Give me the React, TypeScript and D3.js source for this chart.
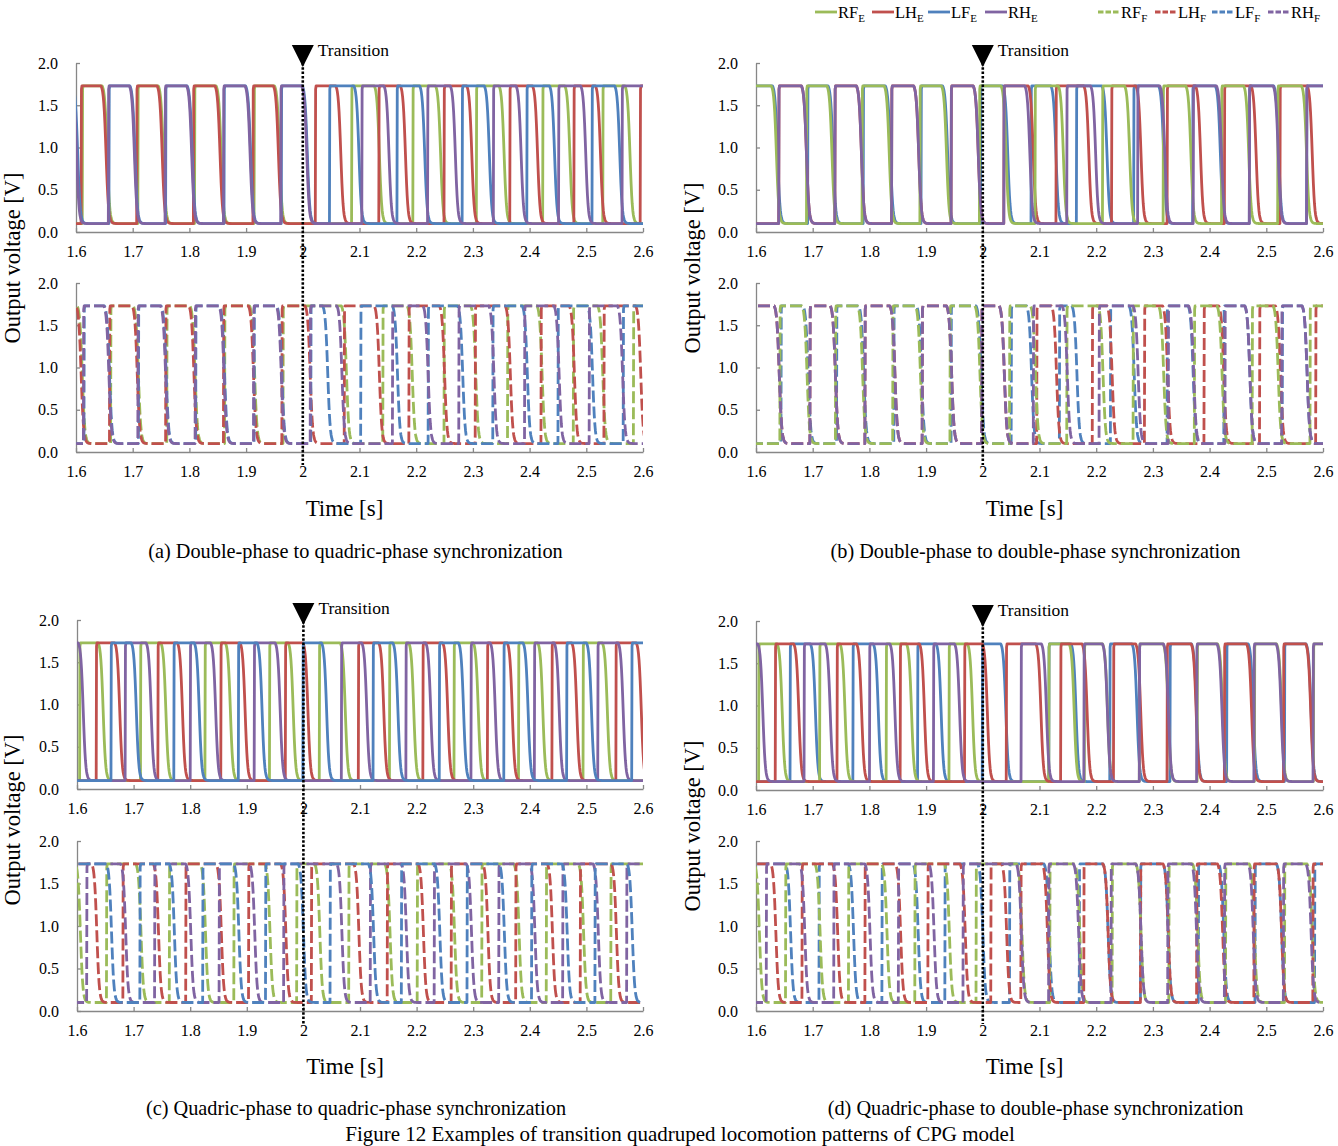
import React, { useEffect, useRef } from "react";
import * as d3 from "d3";

type Pulse = [number, number];

// time axis
const TIME_TICKS = [1.6, 1.7, 1.8, 1.9, 2.0, 2.1, 2.2, 2.3, 2.4, 2.5, 2.6];
const TIME_LABELS = ["1.6", "1.7", "1.8", "1.9", "2", "2.1", "2.2", "2.3", "2.4", "2.5", "2.6"];
const VOLT_TICKS = [0, 0.5, 1, 1.5, 2];
const VOLT_LABELS = ["0.0", "0.5", "1.0", "1.5", "2.0"];

const LEGS = ["RF", "LH", "LF", "RH"];
const COLORS = ["#9BBB59", "#C0504D", "#4F81BD", "#8064A2"];

// output levels [V]
const V_HIGH = 1.73;
const V_LOW = 0.1;

// pulses as [rise, start of fall] in seconds
// (a) double-phase -> quadric-phase
const A_RF_E: Pulse[] = [[1.611, 1.646], [1.709, 1.745], [1.809, 1.847], [1.914, 1.95], [2.086, 2.126], [2.194, 2.234], [2.306, 2.346], [2.423, 2.462], [2.529, 2.568]];
const A_LH_E: Pulse[] = [[1.609, 1.644], [1.707, 1.743], [1.807, 1.845], [1.912, 1.948], [2.022, 2.058], [2.134, 2.172], [2.249, 2.289], [2.365, 2.405], [2.478, 2.516], [2.595, 2.635]];
const A_LF_E: Pulse[] = [[1.552, 1.594], [1.658, 1.695], [1.758, 1.796], [1.861, 1.899], [1.962, 1.999], [2.047, 2.09], [2.166, 2.206], [2.281, 2.32], [2.395, 2.435], [2.51, 2.55]];
const A_RH_E: Pulse[] = [[1.55, 1.592], [1.657, 1.694], [1.757, 1.795], [1.86, 1.898], [1.961, 1.998], [2.104, 2.143], [2.22, 2.26], [2.336, 2.376], [2.451, 2.49], [2.563, 2.602]];
const A_RF_F: Pulse[] = [[1.56, 1.602], [1.661, 1.701], [1.76, 1.801], [1.862, 1.906], [1.965, 2.068], [2.141, 2.184], [2.249, 2.296], [2.361, 2.413], [2.477, 2.52], [2.583, 2.64]];
const A_LH_F: Pulse[] = [[1.56, 1.6], [1.659, 1.699], [1.758, 1.799], [1.86, 1.904], [1.963, 2.004], [2.073, 2.126], [2.187, 2.241], [2.304, 2.357], [2.42, 2.47], [2.531, 2.587]];
const A_LF_F: Pulse[] = [[1.614, 1.65], [1.71, 1.75], [1.811, 1.853], [1.914, 1.954], [2.014, 2.035], [2.102, 2.158], [2.221, 2.273], [2.335, 2.387], [2.45, 2.502], [2.565, 2.617]];
const A_RH_F: Pulse[] = [[1.613, 1.649], [1.709, 1.749], [1.81, 1.852], [1.913, 1.953], [2.013, 2.06], [2.158, 2.212], [2.275, 2.328], [2.391, 2.443], [2.505, 2.555], [2.617, 2.66]];

// (b) double-phase -> double-phase
const B_RF_E: Pulse[] = [[1.55, 1.627], [1.689, 1.725], [1.787, 1.826], [1.889, 1.927], [1.994, 2.032], [2.092, 2.133], [2.211, 2.25], [2.318, 2.358], [2.421, 2.46], [2.52, 2.562]];
const B_LH_E: Pulse[] = [[1.64, 1.68], [1.739, 1.777], [1.839, 1.878], [1.944, 1.983], [2.037, 2.08], [2.129, 2.178], [2.227, 2.27], [2.325, 2.375], [2.426, 2.473], [2.524, 2.572]];
const B_LF_E: Pulse[] = [[1.55, 1.629], [1.691, 1.727], [1.789, 1.828], [1.891, 1.929], [1.996, 2.035], [2.085, 2.12], [2.165, 2.21], [2.266, 2.31], [2.37, 2.41], [2.47, 2.513], [2.571, 2.61]];
const B_RH_E: Pulse[] = [[1.64, 1.68], [1.739, 1.777], [1.839, 1.878], [1.944, 1.983], [2.037, 2.074], [2.148, 2.19], [2.273, 2.312], [2.371, 2.412], [2.47, 2.512], [2.571, 2.615]];
const B_RF_F: Pulse[] = [[1.642, 1.681], [1.74, 1.779], [1.841, 1.881], [1.942, 1.986], [2.047, 2.084], [2.148, 2.203], [2.265, 2.31], [2.373, 2.413], [2.475, 2.512], [2.577, 2.65]];
const B_LH_F: Pulse[] = [[1.55, 1.632], [1.695, 1.731], [1.792, 1.836], [1.893, 1.936], [1.998, 2.029], [2.095, 2.121], [2.193, 2.219], [2.285, 2.317], [2.39, 2.416], [2.488, 2.516], [2.587, 2.65]];
const B_LF_F: Pulse[] = [[1.644, 1.683], [1.742, 1.781], [1.843, 1.883], [1.944, 1.988], [2.05, 2.077], [2.135, 2.157], [2.225, 2.258], [2.325, 2.362], [2.425, 2.462], [2.528, 2.563]];
const B_RH_F: Pulse[] = [[1.55, 1.632], [1.695, 1.731], [1.792, 1.836], [1.893, 1.936], [1.998, 2.029], [2.089, 2.14], [2.205, 2.265], [2.327, 2.363], [2.427, 2.462], [2.527, 2.563]];

// (c) quadric-phase -> quadric-phase
const C_RF_E: Pulse[] = [[1.6046, 1.6372], [1.7121, 1.748], [1.826, 1.862], [1.94, 1.973], [2.028, 2.065], [2.152, 2.186], [2.266, 2.3], [2.38, 2.414], [2.494, 2.528]];
const C_LH_E: Pulse[] = [[1.6339, 1.6665], [1.7428, 1.7773], [1.854, 1.888], [1.968, 1.999], [2.097, 2.133], [2.211, 2.246], [2.325, 2.36], [2.439, 2.474], [2.552, 2.588]];
const C_LF_E: Pulse[] = [[1.66, 1.6958], [1.771, 1.807], [1.885, 1.918], [1.999, 2.032], [2.123, 2.158], [2.24, 2.274], [2.354, 2.388], [2.465, 2.5], [2.58, 2.615]];
const C_RH_E: Pulse[] = [[1.56, 1.602], [1.685, 1.722], [1.8, 1.836], [1.913, 1.95], [2.067, 2.103], [2.181, 2.216], [2.296, 2.33], [2.408, 2.443], [2.52, 2.556]];
const C_RF_F: Pulse[] = [[1.55, 1.597], [1.652, 1.704], [1.763, 1.818], [1.877, 1.932], [1.988, 2.02], [2.08, 2.144], [2.201, 2.258], [2.315, 2.372], [2.429, 2.486], [2.543, 2.62]];
const C_LH_F: Pulse[] = [[1.55, 1.626], [1.681, 1.735], [1.792, 1.846], [1.903, 1.96], [2.014, 2.089], [2.148, 2.203], [2.261, 2.317], [2.375, 2.431], [2.489, 2.544], [2.603, 2.7]];
const C_LF_F: Pulse[] = [[1.55, 1.652], [1.711, 1.763], [1.822, 1.877], [1.933, 1.991], [2.047, 2.115], [2.173, 2.232], [2.289, 2.346], [2.403, 2.457], [2.515, 2.572], [2.63, 2.7]];
const C_RH_F: Pulse[] = [[1.617, 1.677], [1.737, 1.792], [1.851, 1.905], [1.965, 2.059], [2.118, 2.173], [2.231, 2.288], [2.345, 2.4], [2.458, 2.512], [2.571, 2.65]];

// (d) quadric-phase -> double-phase
const D_RF_E: Pulse[] = [[1.6046, 1.6372], [1.7121, 1.748], [1.8295, 1.8653], [1.9403, 1.9729], [2.1163, 2.1522], [2.179, 2.211], [2.276, 2.318], [2.378, 2.414], [2.479, 2.518], [2.583, 2.62]];
const D_LH_E: Pulse[] = [[1.6339, 1.6665], [1.7428, 1.7773], [1.8542, 1.8881], [1.9677, 1.999], [2.0413, 2.0935], [2.1372, 2.175], [2.2304, 2.2695], [2.3249, 2.3673], [2.426, 2.4651], [2.5302, 2.5694]];
const D_LF_E: Pulse[] = [[1.66, 1.6958], [1.7708, 1.8067], [1.8849, 1.9175], [1.999, 2.0316], [2.1163, 2.1554], [2.2239, 2.263], [2.33, 2.368], [2.43, 2.468], [2.532, 2.57]];
const D_RH_E: Pulse[] = [[1.57, 1.603], [1.6847, 1.7219], [1.8001, 1.836], [1.9129, 1.9501], [2.0674, 2.1033], [2.1782, 2.2108], [2.276, 2.3184], [2.3771, 2.4129], [2.4781, 2.5172], [2.5824, 2.6182]];
const D_RF_F: Pulse[] = [[1.55, 1.597], [1.652, 1.704], [1.763, 1.822], [1.88, 1.932], [1.988, 2.06], [2.118, 2.162], [2.228, 2.27], [2.328, 2.37], [2.428, 2.47], [2.532, 2.572]];
const D_LH_F: Pulse[] = [[1.55, 1.626], [1.681, 1.735], [1.792, 1.846], [1.903, 1.96], [2.014, 2.033], [2.067, 2.105], [2.178, 2.212], [2.278, 2.318], [2.377, 2.414], [2.478, 2.518], [2.582, 2.62]];
const D_LF_F: Pulse[] = [[1.55, 1.652], [1.711, 1.763], [1.822, 1.877], [1.933, 1.991], [2.047, 2.108], [2.17, 2.212], [2.278, 2.318], [2.38, 2.416], [2.48, 2.518], [2.585, 2.62]];
const D_RH_F: Pulse[] = [[1.618, 1.677], [1.737, 1.792], [1.851, 1.905], [1.965, 2.059], [2.116, 2.16], [2.226, 2.27], [2.326, 2.368], [2.426, 2.468], [2.53, 2.57]];

const TRANSITION_T = 2.0;

const PANELS = [
  {
    x0: 76, x1: 643, top: [232, 63], bot: [452, 283], triTop: 45, timeY: 508, capY: 551, ylabX: 10, ylabY: 258,
    caption: "(a) Double-phase to quadric-phase synchronization",
    E: [A_RF_E, A_LH_E, A_LF_E, A_RH_E], F: [A_RF_F, A_LH_F, A_LF_F, A_RH_F], order: [0, 1, 2, 3],
  },
  {
    x0: 756, x1: 1323, top: [232, 63], bot: [452, 283], triTop: 45, timeY: 508, capY: 551, ylabX: 690, ylabY: 268,
    caption: "(b) Double-phase to double-phase synchronization",
    E: [B_RF_E, B_LH_E, B_LF_E, B_RH_E], F: [B_RF_F, B_LH_F, B_LF_F, B_RH_F], order: [2, 1, 0, 3],
  },
  {
    x0: 77, x1: 643, top: [789, 620], bot: [1011, 841], triTop: 603, timeY: 1066, capY: 1108, ylabX: 10, ylabY: 820,
    caption: "(c) Quadric-phase to quadric-phase synchronization",
    E: [C_RF_E, C_LH_E, C_LF_E, C_RH_E], F: [C_RF_F, C_LH_F, C_LF_F, C_RH_F], order: [0, 1, 3, 2],
  },
  {
    x0: 756, x1: 1323, top: [790, 621], bot: [1011, 841], triTop: 605, timeY: 1066, capY: 1108, ylabX: 690, ylabY: 826,
    caption: "(d) Quadric-phase to double-phase synchronization",
    E: [D_RF_E, D_LH_E, D_LF_E, D_RH_E], F: [D_RF_F, D_LH_F, D_LF_F, D_RH_F], order: [2, 0, 1, 3],
  },
];

const FONT = "'Liberation Serif', 'Times New Roman', serif";
const AXIS_GREY = "#878787";

// turn pulse edges into a waveform with a sharp rise and a rounded fall
function wave(pulses: Pulse[]): [number, number][] {
  const k = 0.0022;
  const mid = 0.009;
  const s0 = 1 / (1 + Math.exp(-mid / k));
  const pts: [number, number][] = [[1.45, V_LOW]];
  pulses.forEach(([r, f], i) => {
    const next = i < pulses.length - 1 ? pulses[i + 1][0] : 2.8;
    pts.push([r, V_LOW], [r + 0.0006, V_HIGH - 0.04], [r + 0.0015, V_HIGH], [f, V_HIGH]);
    for (let dt = 0.001; dt <= 0.032 && f + dt < next; dt += 0.001) {
      const s = 1 / (1 + Math.exp((dt - mid) / k)) / s0;
      pts.push([f + dt, V_LOW + (V_HIGH - V_LOW) * s]);
    }
  });
  pts.push([2.8, V_LOW]);
  return pts;
}

const App: React.FC = () => {
  const ref = useRef<SVGSVGElement>(null);

  useEffect(() => {
    if (!ref.current) return;
    const svg = d3.select(ref.current);
    svg.selectAll("*").remove();

    const defs = svg.append("defs");

    PANELS.forEach((p, pi) => {
      const x = d3.scaleLinear().domain([1.6, 2.6]).range([p.x0, p.x1]);

      [p.top, p.bot].forEach((yr, si) => {
        const y = d3.scaleLinear().domain([0, 2]).range(yr);
        const clipId = `clip-${pi}-${si}`;
        defs.append("clipPath").attr("id", clipId)
          .append("rect")
          .attr("x", p.x0).attr("y", yr[1] - 6)
          .attr("width", p.x1 - p.x0).attr("height", yr[0] - yr[1] + 10);

        // axes
        const gy = svg.append("g").attr("transform", `translate(${p.x0},0)`)
          .call(d3.axisLeft(y).tickValues(VOLT_TICKS).tickFormat((d, i) => VOLT_LABELS[i])
            .tickSize(-4).tickSizeOuter(0).tickPadding(18));
        const gx = svg.append("g").attr("transform", `translate(0,${yr[0]})`)
          .call(d3.axisBottom(x).tickValues(TIME_TICKS).tickFormat((d, i) => TIME_LABELS[i])
            .tickSize(-4).tickSizeOuter(0).tickPadding(14));
        [gy, gx].forEach((g) => {
          g.attr("font-family", FONT).attr("font-size", 16);
          g.select(".domain").attr("stroke", AXIS_GREY).attr("stroke-width", 1.3);
          g.selectAll(".tick line").attr("stroke", AXIS_GREY).attr("stroke-width", 1.3);
          g.selectAll("text").attr("fill", "#000").style("font-family", FONT).style("font-size", "16px");
        });

        const line = d3.line<[number, number]>().x((d) => x(d[0])).y((d) => y(d[1]));
        const data = si === 0 ? p.E : p.F;
        const gl = svg.append("g").attr("clip-path", `url(#${clipId})`);
        p.order.forEach((k) => {
          gl.append("path")
            .attr("d", line(wave(data[k])) || "")
            .attr("fill", "none")
            .attr("stroke", COLORS[k])
            .attr("stroke-width", 2.8)
            .attr("stroke-linejoin", "round")
            .attr("stroke-dasharray", si === 0 ? null : "12,4");
        });
      });

      // transition marker
      const tx = x(TRANSITION_T);
      svg.append("line")
        .attr("x1", tx).attr("x2", tx)
        .attr("y1", p.triTop + 18).attr("y2", p.bot[0] + 13)
        .attr("stroke", "#000").attr("stroke-width", 2.6)
        .attr("stroke-dasharray", "2.5,1.8");
      svg.append("path")
        .attr("d", `M${tx - 11},${p.triTop} L${tx + 11},${p.triTop} L${tx},${p.triTop + 22} Z`)
        .attr("fill", "#000");
      svg.append("text")
        .attr("x", tx + 15).attr("y", p.triTop + 11)
        .style("font-family", FONT).style("font-size", "17.5px")
        .text("Transition");

      // labels
      svg.append("text")
        .attr("transform", `translate(${p.ylabX + 10},${p.ylabY}) rotate(-90)`)
        .attr("text-anchor", "middle")
        .style("font-family", FONT).style("font-size", "22.5px")
        .text("Output voltage [V]");
      svg.append("text")
        .attr("x", (p.x0 + p.x1) / 2 - 15).attr("y", p.timeY + 8)
        .attr("text-anchor", "middle")
        .style("font-family", FONT).style("font-size", "23px")
        .text("Time [s]");
      svg.append("text")
        .attr("x", (p.x0 + p.x1) / 2 - 4).attr("y", p.capY + 7)
        .attr("text-anchor", "middle")
        .style("font-family", FONT).style("font-size", "20.3px")
        .text(p.caption);
    });

    // legend
    const legX = [815, 872, 928, 985, 1098, 1155, 1212, 1268];
    legX.forEach((lx, i) => {
      const k = i % 4;
      const solid = i < 4;
      svg.append("line")
        .attr("x1", lx).attr("x2", lx + 22).attr("y1", 12).attr("y2", 12)
        .attr("stroke", COLORS[k]).attr("stroke-width", 2.8)
        .attr("stroke-dasharray", solid ? null : "5.5,2");
      const t = svg.append("text").attr("x", lx + 23).attr("y", 18)
        .style("font-family", FONT).style("font-size", "16.5px");
      t.append("tspan").text(LEGS[k]);
      t.append("tspan").attr("dy", 4).style("font-size", "11px").text(solid ? "E" : "F");
    });

    svg.append("text")
      .attr("x", 680).attr("y", 1141)
      .attr("text-anchor", "middle")
      .style("font-family", FONT).style("font-size", "21px")
      .text("Figure 12 Examples of transition quadruped locomotion patterns of CPG model");
  }, []);

  return (
    <svg ref={ref} width={1338} height={1146}
      style={{ position: "absolute", left: 0, top: 0, background: "#fff" }} />
  );
};

export default App;
